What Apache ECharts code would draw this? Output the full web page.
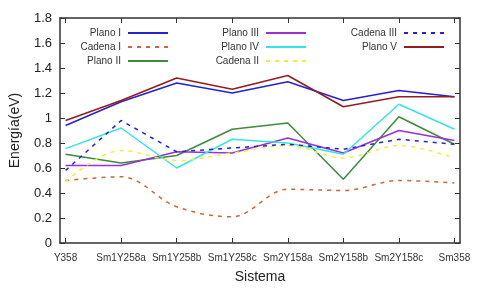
<!DOCTYPE html>
<html>
<head>
<meta charset="utf-8">
<script src="https://cdn.jsdelivr.net/npm/echarts@6/dist/echarts.min.js"></script>
<style>
  html, body { margin: 0; padding: 0; background: #fff; }
  #chart { width: 482px; height: 291px; }
</style>
</head>
<body>
<div id="chart"></div>
<script>
const sistemas = ['Y358', 'Sm1Y258a', 'Sm1Y258b', 'Sm1Y258c', 'Sm2Y158a', 'Sm2Y158b', 'Sm2Y158c', 'Sm358']

const planoI = [0.94, 1.13, 1.28, 1.20, 1.29, 1.14, 1.22, 1.17]
const cadenaI = [0.50, 0.53, 0.29, 0.21, 0.43, 0.42, 0.50, 0.48]
const planoII = [0.71, 0.64, 0.70, 0.91, 0.96, 0.51, 1.01, 0.79]
const planoIII = [0.62, 0.62, 0.73, 0.72, 0.84, 0.72, 0.90, 0.82]
const planoIV = [0.755, 0.92, 0.60, 0.83, 0.80, 0.71, 1.11, 0.91]
const cadenaII = [0.49, 0.74, 0.66, 0.72, 0.78, 0.68, 0.78, 0.68]
const cadenaIII = [0.58, 0.98, 0.73, 0.76, 0.79, 0.75, 0.83, 0.79]
const planoV = [0.98, 1.14, 1.32, 1.23, 1.34, 1.09, 1.17, 1.17]

const xTicks = [0, 1, 2, 3, 4, 5, 6, 7]
const font = 'Liberation Sans, Arial, sans-serif'
const frame = '#333'

function line(name, values, color, dashed, smooth) {
  return {
    name,
    type: 'line',
    symbol: 'none',
    smooth: smooth ? 0.35 : false,
    lineStyle: { width: 1.5, color, type: dashed ? [4, 5] : 'solid' },
    itemStyle: { color },
    data: values.map((v, i) => [i, v]),
  }
}

const series = [
  line('Plano I', planoI, '#2323d0', false, false),
  line('Cadena I', cadenaI, '#c8683c', true, true),
  line('Plano II', planoII, '#3c8c3c', false, false),
  line('Plano III', planoIII, '#9a30d8', false, false),
  line('Plano IV', planoIV, '#33e6e6', false, false),
  line('Cadena II', cadenaII, '#f2ee3c', true, true),
  line('Cadena III', cadenaIII, '#2323d0', true, false),
  line('Plano V', planoV, '#951c1c', false, false),
]

function legendCol(names, right) {
  return {
    data: names,
    orient: 'vertical',
    align: 'right',
    right,
    top: 23,
    itemWidth: 40,
    itemHeight: 10,
    itemGap: 4,
    itemStyle: { opacity: 0 },
    textStyle: { fontFamily: font, fontSize: 10, color: '#333', padding: [0, 2, 0, 0] },
  }
}

function frameLine() {
  return { show: true, onZero: false, lineStyle: { color: frame, width: 1.5 } }
}

const chart = echarts.init(document.getElementById('chart'))
chart.setOption({
  backgroundColor: '#fff',
  animation: false,
  grid: { left: 59, right: 22, top: 18, bottom: 48 },
  legend: [
    legendCol(['Plano I', 'Cadena I', 'Plano II'], 308),
    legendCol(['Plano III', 'Plano IV', 'Cadena II'], 170),
    legendCol(['Cadena III', 'Plano V'], 32),
  ],
  xAxis: [
    {
      type: 'value',
      min: -0.1,
      max: 7.1,
      name: 'Sistema',
      nameLocation: 'middle',
      nameGap: 27,
      nameTextStyle: { fontFamily: font, fontSize: 14, color: '#222' },
      axisLine: frameLine(),
      axisTick: { show: true, inside: true, length: 5, customValues: xTicks, lineStyle: { color: frame } },
      axisLabel: {
        customValues: xTicks,
        formatter: (v) => sistemas[Math.round(v)],
        fontFamily: font, fontSize: 10, color: '#333', margin: 10,
      },
      splitLine: { show: false },
    },
    {
      type: 'value',
      position: 'top',
      min: -0.1,
      max: 7.1,
      axisLine: frameLine(),
      axisTick: { show: true, inside: true, length: 5, customValues: xTicks, lineStyle: { color: frame } },
      axisLabel: { show: false },
      splitLine: { show: false },
    },
  ],
  yAxis: [
    {
      type: 'value',
      min: 0,
      max: 1.8,
      interval: 0.2,
      name: 'Energía(eV)',
      nameLocation: 'middle',
      nameGap: 38,
      nameTextStyle: { fontFamily: font, fontSize: 14, color: '#222' },
      axisLine: frameLine(),
      axisTick: { show: true, inside: true, length: 5, lineStyle: { color: frame } },
      axisLabel: {
        formatter: (v) => String(+v.toFixed(1)),
        fontFamily: font, fontSize: 13, color: '#222', margin: 8,
      },
      splitLine: { show: false },
    },
    {
      type: 'value',
      position: 'right',
      min: 0,
      max: 1.8,
      interval: 0.2,
      axisLine: frameLine(),
      axisTick: { show: true, inside: true, length: 5, lineStyle: { color: frame } },
      axisLabel: { show: false },
      splitLine: { show: false },
    },
  ],
  series,
})
</script>
</body>
</html>
